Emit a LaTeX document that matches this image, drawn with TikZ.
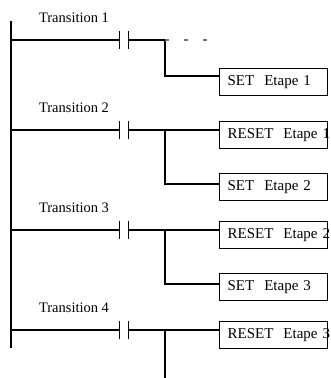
\documentclass[tikz,border=0pt]{standalone}
\usepackage{fontspec}
\setmainfont{Liberation Serif}
\usetikzlibrary{positioning}

\begin{document}
\begin{tikzpicture}[x=1pt, y=-1pt,
    wire/.style={line width=1.3pt, black},
    dashwire/.style={line width=1.2pt, black!55, dash pattern=on 4pt off 15pt},
    contact/.style={rectangle, minimum width=9pt, minimum height=18pt, inner sep=0pt},
    coil/.style={draw=black, rectangle, line width=1.3pt, anchor=north west, minimum height=27pt, text width=92pt, inner xsep=8pt, inner ysep=0pt, align=left, font=\fontsize{15}{17}\selectfont},
    trans/.style={anchor=base, font=\fontsize{14.5}{17}\selectfont}
]
\useasboundingbox (0,0) rectangle (330,378);
\clip (0,0) rectangle (330,378);

% rail
\coordinate (top) at (11,21);
\coordinate (bot) at (11,348);
\draw[wire] (top) -- (bot);

% contacts
\node[contact] (k1) at (124,40) {};
\node[contact] (k2) at (124,130) {};
\node[contact] (k3) at (124,230) {};
\node[contact] (k4) at (124,330) {};

\node[trans] (t1) at (74,22) {Transition 1};
\node[trans] (t2) at (74,112) {Transition 2};
\node[trans] (t3) at (74,212) {Transition 3};
\node[trans] (t4) at (74,312) {Transition 4};

% branch points
\coordinate (j1) at (165,40);
\coordinate (j2) at (165,130);
\coordinate (j3) at (165,230);
\coordinate (j4) at (165,330);
\coordinate (d1) at (165,76);
\coordinate (d2) at (165,184);
\coordinate (d3) at (165,284);
\coordinate (e1) at (208,40);
\coordinate (e4) at (165,378);

% coils
\node[coil] (set1) at (219,68) {\mbox{SET\ \ Etape 1}};
\node[coil] (reset1) at (219,121) {\mbox{RESET\ \ Etape 1}};
\node[coil] (set2) at (219,173) {\mbox{SET\ \ Etape 2}};
\node[coil] (reset2) at (219,221) {\mbox{RESET\ \ Etape 2}};
\node[coil] (set3) at (219,273) {\mbox{SET\ \ Etape 3}};
\node[coil] (reset3) at (219,321) {\mbox{RESET\ \ Etape 3}};

% rungs
\foreach \k in {k1,k2,k3,k4} {
    \draw[wire] (top |- \k.west) -- (\k.west);
    \draw[wire] (\k.north west) -- (\k.south west);
    \draw[wire] (\k.north east) -- (\k.south east);
}
\draw[wire] (k1.east) -- (j1) -- (d1) -- (d1 -| set1.west);
\draw[dashwire] (j1) -- (e1);
\draw[wire] (k2.east) -- (j2) -- (j2 -| reset1.west);
\draw[wire] (j2) -- (d2) -- (d2 -| set2.west);
\draw[wire] (k3.east) -- (j3) -- (j3 -| reset2.west);
\draw[wire] (j3) -- (d3) -- (d3 -| set3.west);
\draw[wire] (k4.east) -- (j4) -- (j4 -| reset3.west);
\draw[wire] (j4) -- (e4);
\end{tikzpicture}
\end{document}
